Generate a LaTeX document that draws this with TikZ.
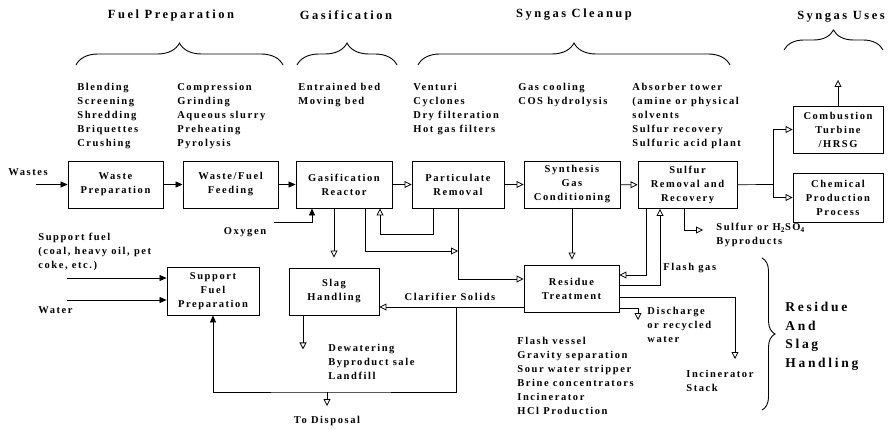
\documentclass[tikz,border=0pt]{standalone}
\usepackage{fontspec}
\setmainfont{Liberation Serif}
\newfontfamily\spfont{Liberation Serif}[LetterSpace=15]
\newfontfamily\hdfont{Liberation Serif}[LetterSpace=20]
\usetikzlibrary{arrows.meta,decorations.pathreplacing}

\newcommand{\txt}{\spfont\bfseries\fontsize{10.5}{14}\selectfont}
\tikzset{
	box/.style={draw,line width=.9pt,align=center,inner sep=0pt,minimum width=95pt,minimum height=47pt,font=\txt},
	lst/.style={anchor=north west,align=left,inner sep=0pt,font=\txt},
	lbl/.style={inner sep=0pt,font=\txt},
	hdr/.style={inner sep=0pt,font=\hdfont\bfseries\fontsize{12.5}{14}\selectfont},
	brc/.style={decorate,decoration={brace,amplitude=#1},line width=.9pt},
	brc/.default=22pt,
	oa/.style={-{Triangle[open,length=7pt,width=7pt,line width=.8pt]}},
	fa/.style={-{Triangle[length=7pt,width=6pt]}}
}

\begin{document}
\begin{tikzpicture}[x=1pt,y=-1pt,line width=.7pt]
	\useasboundingbox (0,0) rectangle (890,430);
	
	% stage headings and braces
	\node[hdr] (hfuel) at (171,15) {Fuel Preparation};
	\node[hdr] (hgas) at (346,15) {Gasification};
	\node[hdr] (hclean) at (574,15) {Syngas Cleanup};
	\node[hdr] (huses) at (841,17) {Syngas Uses};
	\draw[brc] (76,65) -- (283,65);
	\draw[brc] (297,65) -- (397,65);
	\draw[brc] (418,65) -- (730,65);
	\draw[brc=20pt] (784,50) -- (883,50);
	
	% options under each stage
	\node[lst] (lfuela) at (77,83) {Blending\\Screening\\Shredding\\Briquettes\\Crushing};
	\node[lst] (lfuelb) at (177,83) {Compression\\Grinding\\Aqueous slurry\\Preheating\\Pyrolysis};
	\node[lst] (lgas) at (298,83) {Entrained bed\\Moving bed};
	\node[lst] (lcleana) at (413,83) {Venturi\\Cyclones\\Dry filteration\\Hot gas filters};
	\node[lst] (lcleanb) at (518,83) {Gas cooling\\COS hydrolysis};
	\node[lst] (lcleanc) at (632,83) {Absorber tower\\(amine or physical\\solvents\\Sulfur recovery\\Sulfuric acid plant};
	
	% main train
	\node[box] (wprep) at (115.5,184.5) {Waste\\Preparation};
	\node[box] (wfeed) at (230.5,184.5) {Waste/Fuel\\Feeding};
	\node[box,minimum width=96pt] (gasif) at (344,184.5) {Gasification\\Reactor};
	\node[box,minimum width=92pt] (partrem) at (458,184.5) {Particulate\\Removal};
	\node[box,minimum width=96pt] (syncond) at (572,184.5) {Synthesis\\Gas\\Conditioning};
	\node[box,minimum width=99pt] (sulfur) at (687.5,185) {Sulfur\\Removal and\\Recovery};
	\node[box,minimum width=90pt] (turbine) at (838,129.5) {Combustion\\Turbine\\/HRSG};
	\node[box,minimum width=90pt,minimum height=49pt] (chemprod) at (838,197.5) {Chemical\\Production\\Process};
	\node[box,minimum width=92pt,minimum height=48pt] (supfuel) at (213,291) {Support\\Fuel\\Preparation};
	\node[box,minimum width=90pt] (slag) at (334,291.5) {Slag\\Handling};
	\node[box] (residue) at (571.5,288.5) {Residue\\Treatment};
	
	\node[lbl] (lwastes) at (28,172) {Wastes}; \coordinate (wastesin) at (36,184.5);
	\draw[fa] (wastesin) -- (wprep);
	\draw[fa] (wprep) -- (wfeed);
	\draw[fa] (wfeed) -- (gasif);
	\draw[oa] (gasif) -- (partrem);
	\draw[oa] (partrem) -- (syncond);
	\draw[oa] (syncond) -- (sulfur);
	
	\coordinate (split) at (773,184.5);
	\draw (sulfur) -- (split);
	\draw[oa] (split) |- (turbine);
	\draw[oa] (split) |- (chemprod);
	\coordinate (usesout) at (838,80);
	\draw[oa] (turbine) -- (usesout);
	
	% gasifier connections
	\node[lbl] (loxy) at (245,232) {Oxygen}; \coordinate (oxin) at (274,222);
	\draw[fa] (oxin) -| ([xshift=-32pt]gasif.south);
	\draw[oa] (gasif.south -| slag.north) -- ([yshift=10pt]slag.north);
	\coordinate (jn) at (458,251);
	\draw[oa] ([xshift=21pt]gasif.south) |- (jn);
	\draw[oa] ([xshift=-25pt]partrem.south) -- ++(0,26) -| ([xshift=36pt]gasif.south);
	\draw[oa] (partrem.south) |- ([yshift=9.5pt]residue.west);
	\draw[oa] (syncond.south) -- ([yshift=5pt]syncond.south |- residue.north);
	
	% sulfur / residue loops
	\draw[oa] ([xshift=-41.5pt]sulfur.south) |- ([yshift=13.5pt]residue.east);
	\draw[oa] ([yshift=3.5pt]residue.east) -| ([xshift=-27.5pt]sulfur.south);
	\node[lbl,anchor=north west] (lflash) at (663,263) {Flash gas};
	\coordinate (byout) at (703,230);
	\draw[oa] ([xshift=-3.5pt]sulfur.south) |- (byout);
	\node[lst] (lbyprod) at (716,223) {Sulfur or H\textsubscript{2}SO\textsubscript{4}\\Byproducts};
	
	\coordinate (stackin) at (735,359);
	\draw[oa] ([yshift=-8.5pt]residue.east) -| (stackin);
	\node[lst] (lstack) at (686,370) {Incinerator\\Stack};
	\coordinate (dischin) at (638,320);
	\draw[oa] ([yshift=-19.5pt]residue.east) -| (dischin);
	\node[lst] (ldisch) at (647,307) {Discharge\\or recycled\\water};
	\node[lst] (lres) at (517,337) {Flash vessel\\Gravity separation\\Sour water stripper\\Brine concentrators\\Incinerator\\HCl Production};
	
	% clarifier solids and disposal
	\draw[oa] ([yshift=-18.5pt]residue.west) -- ([yshift=-15.5pt]slag.east);
	\node[lbl] (lclar) at (450,297) {Clarifier Solids};
	\coordinate (clsplit) at (456,307); \coordinate (dispjn) at (327,392);
	\draw[fa] (clsplit) |- (dispjn) -| (supfuel.south);
	\draw[oa] (dispjn) -- ++(0,14);
	\node[lbl] (ldisp) at (327,421) {To Disposal};
	\draw[oa] ([xshift=-31pt]slag.south) -- ++(0,34);
	\node[lst] (ldewat) at (328,344) {Dewatering\\Byproduct sale\\Landfill};
	
	% support fuel
	\node[lst] (lsupp) at (38,233) {Support fuel\\(coal, heavy oil, pet\\coke, etc.)};
	\coordinate (suppin) at (67,278); \coordinate (waterin) at (67,300);
	\draw[fa] (suppin) -- (suppin -| supfuel.west);
	\draw[fa] (waterin) -- (waterin -| supfuel.west);
	\node[lst] (lwater) at (38,306) {Water};
	
	% residue and slag handling
	\draw[brc=13pt] (762,258) -- (762,410);
	\node[anchor=north west,align=left,inner sep=0pt,font=\hdfont\bfseries\fontsize{13.5}{18.5}\selectfont] (lrsh) at (785,302) {Residue\\And\\Slag\\Handling};
\end{tikzpicture}
\end{document}
